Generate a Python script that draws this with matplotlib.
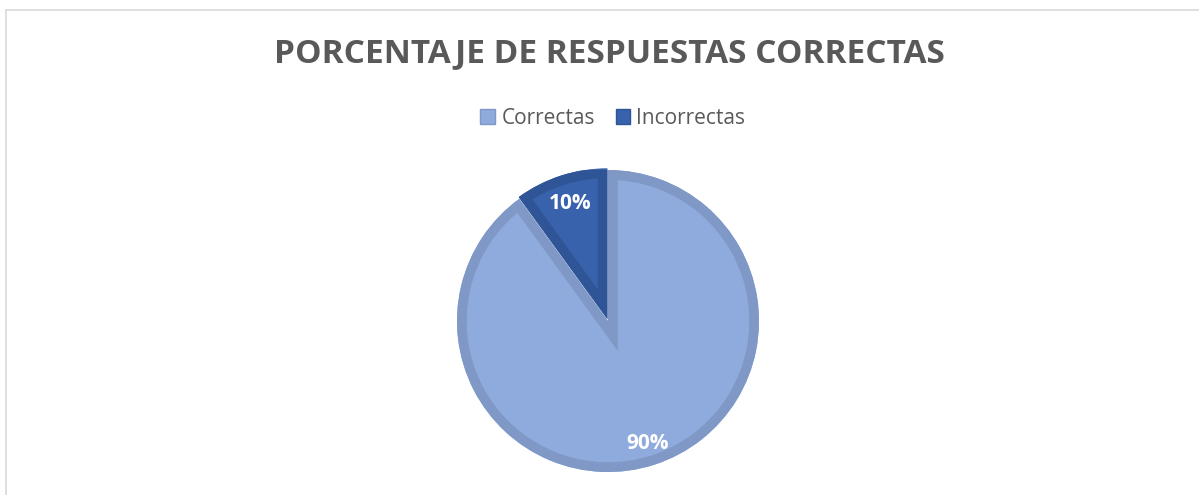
import matplotlib.pyplot as plt
from matplotlib.patches import Wedge
from matplotlib.lines import Line2D

# data
labels = ["Correctas", "Incorrectas"]
values = [90, 10]
fill_colors = ["#8FAADC", "#3862AC"]
edge_colors = ["#7F98C6", "#2F5597"]
title = "PORCENTAJE DE RESPUESTAS CORRECTAS"

W, H = 1199, 495
fig = plt.figure(figsize=(W / 100, H / 100), dpi=100)
fig.patch.set_facecolor("white")

# chart frame (only top and left edge visible in the crop)
fig.add_artist(Line2D([6 / W, 1], [1 - 10 / H, 1 - 10 / H], color="#D9D9D9", lw=1.2))
fig.add_artist(Line2D([6 / W, 6 / W], [0, 1 - 10 / H], color="#D9D9D9", lw=1.2))

cx, cy, R = 608, 321, 151
ax = fig.add_axes([(cx - R) / W, (H - cy - R) / H, 2 * R / W, 2 * R / H])
ax.axis("off")

wedges, texts, autotexts = ax.pie(
    values, colors=fill_colors, startangle=90, counterclock=False,
    radius=1, explode=[0, 0.012], autopct="%1.0f%%", pctdistance=0.85,
    wedgeprops=dict(linewidth=0),
    textprops=dict(color="white", fontsize=15, fontweight="bold", family="Open Sans"),
)
# pie() sets its own limits, override so radius 1 fills the axes
ax.set_xlim(-1, 1)
ax.set_ylim(-1, 1)
ax.set_aspect("equal")

# inner bevel-like border: thick stroke clipped to the wedge itself
for w, ec in zip(wedges, edge_colors):
    b = Wedge(w.center, w.r, w.theta1, w.theta2, facecolor="none", edgecolor=ec, linewidth=14)
    ax.add_patch(b)
    b.set_clip_path(w)

for t in autotexts:
    t.set_zorder(5)
# small slice label sits a bit closer to the centre
x, y = autotexts[1].get_position()
autotexts[1].set_position((x * 0.95, y * 0.95))

fig.text(609 / W, 1 - 54 / H, title, ha="center", va="center",
         fontsize=24, fontweight="bold", color="#595959", family="Open Sans")

handles = [plt.Rectangle((0, 0), 1, 1, facecolor=c, edgecolor=ec) for c, ec in zip(fill_colors, edge_colors)]
fig.legend(handles, labels, loc="center", bbox_to_anchor=(613 / W, 1 - 118 / H), ncol=2,
           frameon=False, handlelength=0.7, handleheight=0.7, handletextpad=0.3, columnspacing=1.0,
           prop=dict(family="Open Sans", size=15), labelcolor="#595959")

fig.savefig("out.png", dpi=100)
